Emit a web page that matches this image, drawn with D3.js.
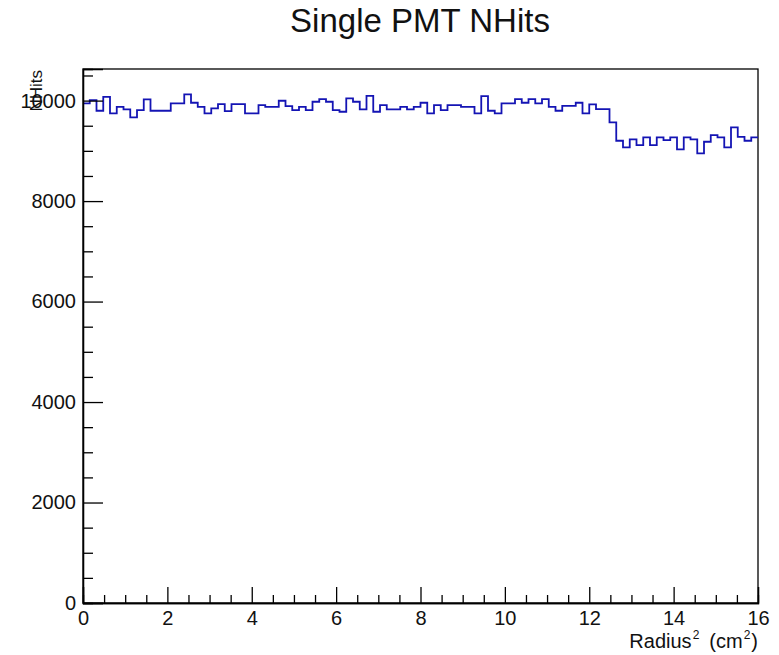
<!DOCTYPE html>
<html>
<head>
<meta charset="utf-8">
<script src="https://cdn.jsdelivr.net/npm/d3@7"></script>
<style>
  html, body { margin: 0; padding: 0; background: #fff; }
  svg { display: block; }
  text { font-family: "Liberation Sans", Arial, Helvetica, sans-serif; fill: #111; }
</style>
</head>
<body>
<svg id="chart" width="779" height="655"></svg>
<script>
// ---- Data ----
const title = "Single PMT NHits";
const xRange = [0, 16];              // Radius^2 (cm^2)
const xMajorTicks = [0, 2, 4, 6, 8, 10, 12, 14, 16];
const yMajorTicks = [0, 2000, 4000, 6000, 8000, 10000];
const binContents = [
  9944, 10010, 9798, 10076, 9745, 9877, 9824, 9665, 9811, 10023,
  9798, 9798, 9798, 9944, 9944, 10123, 9957, 9877, 9745, 9844,
  9930, 9791, 9930, 9930, 9745, 9745, 9910, 9877, 9877, 9997,
  9891, 9811, 9877, 9811, 9977, 10030, 9977, 9811, 9778, 10043,
  9977, 9824, 10096, 9778, 9910, 9824, 9824, 9877, 9824, 9877,
  9957, 9745, 9910, 9811, 9910, 9910, 9877, 9877, 9745, 10090,
  9798, 9745, 9944, 9944, 10030, 9957, 10030, 9944, 10030, 9877,
  9798, 9897, 9897, 9957, 9745, 9924, 9831, 9831, 9566, 9201,
  9068, 9227, 9114, 9267, 9114, 9267, 9214, 9267, 9028, 9267,
  9227, 8949, 9181, 9313, 9267, 9068, 9466, 9280, 9201, 9267
];

// ---- Layout ----
const svg = d3.select("#chart");
const frame = { left: 83, top: 69, right: 758, bottom: 603 };
const W = frame.right - frame.left, H = frame.bottom - frame.top;

const nBins = binContents.length;
const binWidth = (xRange[1] - xRange[0]) / nBins;
const edges = d3.range(nBins + 1).map(i => xRange[0] + i * binWidth);

const x = d3.scaleLinear().domain(xRange).range([0, W]);
const y = d3.scaleLinear().domain([0, d3.max(binContents) * 1.05]).range([H, 0]);

const g = svg.append("g").attr("transform", `translate(${frame.left},${frame.top})`);

// frame box
g.append("rect").attr("x", 0).attr("y", 0).attr("width", W).attr("height", H)
  .attr("fill", "none").attr("stroke", "#000").attr("stroke-width", 1.3);

// histogram step line
const pts = edges.map((e, i) => [e, binContents[Math.min(i, nBins - 1)]]);
const line = d3.line().x(d => x(d[0])).y(d => y(d[1])).curve(d3.curveStepAfter);
g.append("path").datum(pts).attr("d", line)
  .attr("fill", "none").attr("stroke", "#1414b4").attr("stroke-width", 1.8);

// minor ticks
const xMinor = d3.range(xRange[0], xRange[1] + 1e-9, 0.5).filter(v => !xMajorTicks.includes(v));
const yMinor = d3.range(0, y.domain()[1], 500).filter(v => !yMajorTicks.includes(v));

const styleAxis = sel => {
  sel.select(".domain").attr("stroke", "#000").attr("stroke-width", 1.3);
  sel.selectAll(".tick line").attr("stroke", "#000").attr("stroke-width", 1.3);
  sel.selectAll("text").attr("font-size", 20).attr("fill", "#111")
     .attr("font-family", '"Liberation Sans", Arial, Helvetica, sans-serif');
};

g.append("g").attr("transform", `translate(0,${H})`)
  .call(d3.axisBottom(x).tickValues(xMinor).tickSize(-8).tickFormat(""))
  .call(styleAxis);
g.append("g").attr("transform", `translate(0,${H})`)
  .call(d3.axisBottom(x).tickValues(xMajorTicks).tickSize(-16).tickPadding(8).tickFormat(d3.format("d")))
  .call(styleAxis);

g.append("g")
  .call(d3.axisLeft(y).tickValues(yMinor).tickSize(-10).tickFormat(""))
  .call(styleAxis);
g.append("g")
  .call(d3.axisLeft(y).tickValues(yMajorTicks).tickSize(-20).tickPadding(7).tickFormat(d3.format("d")))
  .call(styleAxis);

// title
svg.append("text").attr("x", 420).attr("y", 32).attr("text-anchor", "middle")
  .attr("font-size", 33).text(title);

// x axis title: Radius^2 (cm^2)
const xt = svg.append("text").attr("x", frame.right).attr("y", 648)
  .attr("text-anchor", "end").attr("font-size", 20);
xt.append("tspan").text("Radius");
xt.append("tspan").attr("font-size", 12).attr("dy", -9).attr("dx", 1).text("2");
xt.append("tspan").attr("dy", 9).attr("dx", 10).text("(cm");
xt.append("tspan").attr("font-size", 12).attr("dy", -9).attr("dx", 1).text("2");
xt.append("tspan").attr("dy", 9).attr("dx", 1).text(")");

// y axis title
svg.append("text").attr("transform", "translate(42,70) rotate(-90)")
  .attr("text-anchor", "end").attr("font-size", 17).text("NHits");
</script>
</body>
</html>
